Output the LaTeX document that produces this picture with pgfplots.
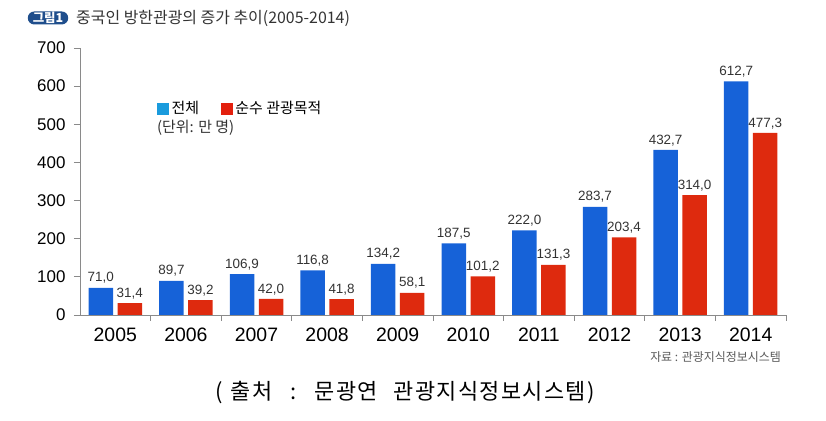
\documentclass[border=0pt]{standalone}
\usepackage{pgfplots}
\pgfplotsset{compat=1.18}
\usepackage{fontspec}
\setmainfont{Liberation Sans}
\newfontfamily\kr{Noto Sans CJK KR}
\newfontfamily\krs[LetterSpace=6]{Noto Sans CJK KR}
\definecolor{cblue}{HTML}{1662D8}
\definecolor{cred}{HTML}{DE2A0E}
\definecolor{lblue}{HTML}{1A9BDD}
\definecolor{lred}{HTML}{E3200E}
\definecolor{axc}{HTML}{8A8A8A}
\definecolor{txt}{HTML}{333333}
\definecolor{badge}{HTML}{1F4E8C}
\begin{document}
\begin{tikzpicture}
\useasboundingbox (0bp,0bp) rectangle (826bp,421bp);
\begin{axis}[
  at={(80bp,106bp)}, anchor=south west,
  scale only axis, width=706bp, height=267bp,
  xmin=-0.5, xmax=9.5, ymin=0, ymax=700,
  axis x line*=bottom, axis y line*=left,
  axis line style={axc, line width=0.8bp},
  tick align=outside,
  xtick={0,...,9},
  xticklabels={2005,2006,2007,2008,2009,2010,2011,2012,2013,2014},
  major x tick style={draw=none},
  minor xtick={0.5,1.5,...,9.5},
  minor tick length=6bp,
  major tick length=6bp,
  ytick={0,100,...,700},
  tick style={axc, line width=0.8bp},
  /pgf/number format/assume math mode=true,
  x tick label style={font=\fontsize{19.5}{19.5}\selectfont, text=black, yshift=-3bp},
  y tick label style={font=\fontsize{17}{17}\selectfont, text=black, xshift=-5bp},
  ybar, bar width=24.5bp,
  nodes near coords,
  every node near coord/.append style={font=\fontsize{13.5}{13.5}\selectfont, text=txt, anchor=south, inner sep=2bp, yshift=2bp,
     /pgf/number format/.cd, fixed, fixed zerofill, precision=1, use comma},
  legend style={at={(0.109,0.808)}, anchor=north west, draw=none, fill=none, inner sep=0pt,
     legend columns=2, font=\kr\fontsize{15}{15}\selectfont,
     /tikz/every even column/.style={column sep=20bp},
     cells={anchor=west}},
  clip=false,
]
\addplot[forget plot, draw=none, fill=cblue, bar shift=-14.5bp] coordinates {
  (0,71.0) (1,89.7) (2,106.9) (3,116.8) (4,134.2) (5,187.5) (6,222.0) (7,283.7) (8,432.7) (9,612.7)};
\addplot[forget plot, draw=none, fill=cred, bar shift=14.5bp] coordinates {
  (0,31.4) (1,39.2) (2,42.0) (3,41.8) (4,58.1) (5,101.2) (6,131.3) (7,203.4) (8,314.0) (9,477.3)};
\addlegendimage{legend image code/.code={\fill[lblue] (0bp,-5.5bp) rectangle (11bp,5.5bp);}}
\addlegendentry{\hspace{1bp}전체}
\addlegendimage{legend image code/.code={\fill[lred] (0bp,-5.5bp) rectangle (11bp,5.5bp);}}
\addlegendentry{\hspace{1bp}순수 관광목적}
\node[anchor=west, font=\kr\fontsize{15}{15}\selectfont, text=txt, inner sep=0pt] at (rel axis cs:0.109,0.70) {(단위: 만 명)};
\end{axis}
\node[fill=badge, text=white, rounded corners=6.5bp, font=\kr\bfseries\fontsize{12.5}{12.5}\selectfont, inner xsep=5bp, inner ysep=0.5bp, minimum height=13bp] at (48bp,403bp) {그림1};
\node[anchor=west, font=\kr\fontsize{16}{16}\selectfont, text=txt, inner sep=0pt] at (76bp,403bp) {중국인 방한관광의 증가 추이(2005-2014)};
\node[anchor=east, font=\kr\fontsize{12}{12}\selectfont, text=black!65, inner sep=0pt] at (781bp,64bp) {자료 : 관광지식정보시스템};
\node[font=\krs\fontsize{22}{22}\selectfont, text=black, inner sep=0pt] at (405bp,28bp) {(\hspace{8bp}출처\hspace{18bp}:\hspace{18bp}문광연\hspace{16bp}관광지식정보시스템)};
\end{tikzpicture}
\end{document}
